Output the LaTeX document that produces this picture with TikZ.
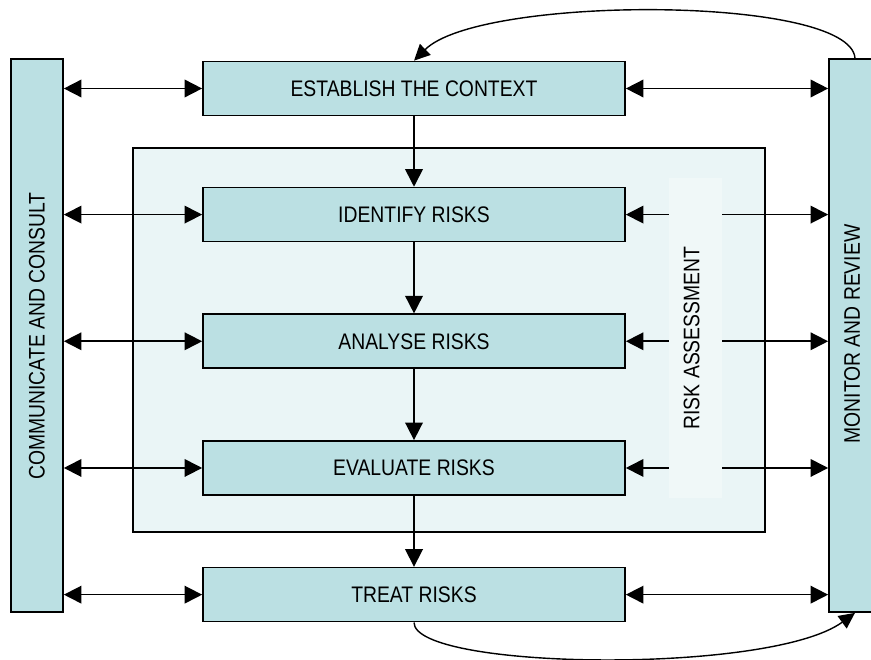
\documentclass[tikz,border=0pt]{standalone}
\usepackage{fontspec}
\setmainfont[FakeStretch=0.86]{Liberation Sans}
\usetikzlibrary{arrows.meta,positioning}
\definecolor{boxfill}{RGB}{187,224,227}
\definecolor{areafill}{RGB}{234,245,246}
\definecolor{colfill}{RGB}{240,248,248}
\tikzset{
  bx/.style={rectangle,draw=black,fill=boxfill,line width=1.2pt,minimum width=10.55cm,minimum height=1.35cm,inner sep=0pt,font=\fontsize{16}{19}\selectfont},
  bar/.style={rectangle,draw=black,fill=boxfill,line width=1.2pt,minimum width=1.3cm,minimum height=13.825cm,inner sep=0pt},
  area/.style={rectangle,draw=black,fill=areafill,line width=1.2pt,inner sep=0pt},
  vt/.style={rotate=90,font=\fontsize{16}{19}\selectfont},
  arr/.style={-{Triangle[length=4.4mm,width=4.4mm]},line width=1.2pt},
  arrd/.style={{Triangle[length=4.4mm,width=4.4mm]}-{Triangle[length=4.4mm,width=4.4mm]},line width=1.2pt},
  crv/.style={-{Triangle[length=4mm,width=3.8mm]},line width=1pt},
}

\begin{document}
\begin{tikzpicture}[x=1cm,y=1cm,node distance=1.775cm]
\clip (0,0) rectangle (21.775,16.475);
% --- assessment area, with the lighter column behind its label
\node[area,minimum width=15.8cm,minimum height=9.6cm] (ra) at (11.225,7.975) {};
\node[rectangle,fill=colfill,minimum width=1.325cm,minimum height=8cm,inner sep=0pt] (col) at (17.3875,8.025) {};
\node[vt] (ralb) at ([xshift=-1mm]col.center) {RISK ASSESSMENT};
% --- process steps
\node[bx] (est) at (10.35,14.2625) {ESTABLISH THE CONTEXT};
\node[bx,below=1.76cm of est] (idf) {IDENTIFY RISKS};
\node[bx,below=of idf] (ana) {ANALYSE RISKS};
\node[bx,below=of ana] (evl) {EVALUATE RISKS};
\node[bx,below=of evl] (trt) {TREAT RISKS};
% --- side bars
\node[bar] (com) at (0.925,8.0875) {};
\node[vt] (comlb) at (0.925,8.075) {COMMUNICATE AND CONSULT};
\node[bar] (mon) at (21.375,8.0875) {};
\node[vt] (monlb) at (21.3,8.125) {MONITOR AND REVIEW};
% --- flow down the steps
\draw[arr] (est) -- (idf);
\draw[arr] (idf) -- (ana);
\draw[arr] (ana) -- (evl);
\draw[arr] (evl) -- (trt);
% --- links to the bars
\foreach \b in {est,idf,ana,evl,trt}
  \draw[arrd] (com.east |- \b.west) -- (\b.west);
\foreach \b in {est,trt}
  \draw[arrd] (\b.east) -- (mon.west |- \b.east);
\foreach \b in {idf,ana,evl}{
  \draw[arr] (col.west |- \b.east) -- (\b.east);
  \draw[arr] (col.east |- \b.east) -- (mon.west |- \b.east);
}
% --- feedback loops
\draw[crv] (mon.north) .. controls (21.25,16.6) and (12.0,16.6) .. (est.north);
\draw[crv] (trt.south) .. controls (10.35,-0.275) and (19.25,-0.4) .. (mon.south);
\end{tikzpicture}
\end{document}
